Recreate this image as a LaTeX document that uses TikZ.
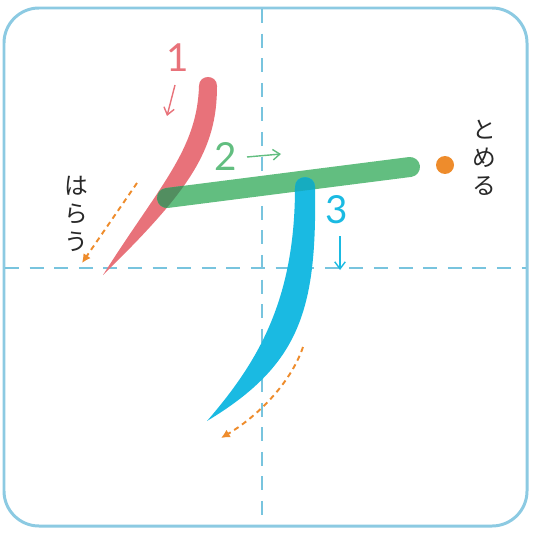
\documentclass[tikz,border=0pt]{standalone}
\usepackage{fontspec}
\usetikzlibrary{arrows.meta}
\newfontfamily\kanafont{Noto Sans CJK JP}
\newfontfamily\digitfont{Lato}
\definecolor{framecol}{RGB}{140,202,226}
\definecolor{guidecol}{RGB}{120,196,222}
\definecolor{strokeone}{RGB}{232,114,122}
\definecolor{stroketwo}{RGB}{98,190,128}
\definecolor{strokethree}{RGB}{26,186,226}
\definecolor{crossonetwo}{RGB}{82,142,96}
\definecolor{crosstwothree}{RGB}{22,172,192}
\definecolor{hintcol}{RGB}{238,140,44}
\definecolor{kanacol}{RGB}{40,40,40}
\newcommand\strokeonepath{(199,86) .. controls (197,150) and (160,185) .. (103,275)
    .. controls (190,190) and (217,150) .. (217,86)
    .. controls (217,74) and (199,74) .. (199,86) -- cycle}
\newcommand\strokethreepath{(295,187) .. controls (295,300) and (258,362) .. (207,421)
    .. controls (300,365) and (317,310) .. (315,187)
    .. controls (315,174) and (295,174) .. (295,187) -- cycle}
\newcommand\stroketwopath{(167,198) -- (410,167)}

\begin{document}
\begin{tikzpicture}[
    x=0.02cm, y=-0.02cm,
    guide/.style={guidecol, line width=1.1pt, dash pattern=on 8pt off 6pt},
    bar/.style={line width=0.4cm, line cap=round},
    num/.style={font=\digitfont\fontsize{22}{22}\selectfont, inner sep=0pt},
    kana/.style={font=\kanafont\fontsize{13.5}{15.8}\selectfont, text=kanacol,
                 align=center, inner sep=0pt},
    dir/.style={-{Straight Barb[length=4pt,width=6pt]}, line width=0.8pt},
    hint/.style={hintcol, line width=1.1pt, dash pattern=on 3pt off 2.4pt,
                 -{Latex[length=5pt,width=5pt]}}
  ]
  \useasboundingbox (0,0) rectangle (533,533);
  \draw[framecol, line width=1.7pt, rounded corners=0.7cm] (4,8) rectangle (527,526);
  \draw[guide] (262,9) -- (262,525);
  \draw[guide] (5,268) -- (526,268);

  \fill[strokeone] \strokeonepath;
  \draw[bar, stroketwo] \stroketwopath;
  \fill[strokethree] \strokethreepath;
  \begin{scope}
    \clip \strokeonepath;
    \draw[bar, crossonetwo] \stroketwopath;
  \end{scope}
  \begin{scope}
    \clip \strokethreepath;
    \draw[bar, crosstwothree] \stroketwopath;
  \end{scope}

  \node[num, text=strokeone] (one) at (178,58) {1};
  \node[num, text=stroketwo] (two) at (226,157) {2};
  \node[num, text=strokethree] (three) at (337,210) {3};
  \coordinate (oneS) at (175,85);
  \coordinate (oneE) at (167,116);
  \coordinate (twoS) at (247,157);
  \coordinate (twoE) at (281,154);
  \coordinate (threeS) at (340,236);
  \coordinate (threeE) at (340,270);
  \draw[dir, strokeone] (oneS) -- (oneE);
  \draw[dir, stroketwo] (twoS) -- (twoE);
  \draw[dir, strokethree] (threeS) -- (threeE);

  \node[circle, fill=hintcol, inner sep=0pt, minimum size=0.36cm] (stopdot) at (445,165) {};
  \node[kana] (tome) at (484,158) {と\\め\\る};
  \node[kana] (harau) at (76,214) {は\\ら\\う};

  \coordinate (sweepA) at (137,183);
  \coordinate (sweepB) at (82,263);
  \coordinate (sweepC) at (303,347);
  \coordinate (sweepD) at (221,438);
  \draw[hint] (sweepA) -- (sweepB);
  \draw[hint] (sweepC) .. controls (290,385) and (255,418) .. (sweepD);
\end{tikzpicture}
\end{document}
